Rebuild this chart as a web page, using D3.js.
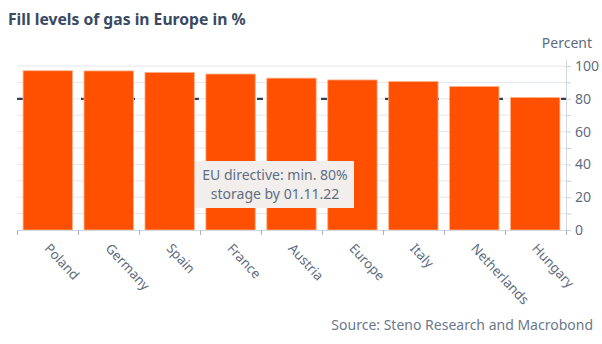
<!DOCTYPE html>
<html>
<head>
<meta charset="utf-8">
<script src="https://cdn.jsdelivr.net/npm/d3@7"></script>
<style>
  body { margin: 0; background: #fff; }
  svg { display: block; font-family: "Noto Sans", "Open Sans", sans-serif; }
</style>
</head>
<body>
<svg id="chart" width="602" height="344"></svg>
<script>
// values (% filled)
const countries = ["Poland", "Germany", "Spain", "France", "Austria", "Europe", "Italy", "Netherlands", "Hungary"];
const fillLevels = [97.1, 97.0, 96.1, 95.1, 92.6, 91.5, 90.5, 87.5, 80.8];
const gridTicks = [0, 10, 20, 30, 40, 50, 60, 70, 80, 90, 100];
const labelTicks = [0, 20, 40, 60, 80, 100];
const targetLevel = 80;
const noteLines = ["EU directive: min. 80%", "storage by 01.11.22"];

const svg = d3.select("#chart");
const plotLeft = 17, plotRight = 566, plotTop = 66, plotBottom = 230;

const x = d3.scaleBand()
    .domain(countries)
    .range([plotLeft, plotRight])
    .paddingInner(0.19)
    .paddingOuter(0.1);

const y = d3.scaleLinear()
    .domain([0, 100])
    .range([plotBottom, plotTop]);

// title
svg.append("text")
    .attr("x", 8).attr("y", 25)
    .attr("fill", "#3a4a62")
    .attr("font-size", 15.7).attr("font-weight", 700)
    .text("Fill levels of gas in Europe in %");

// gridlines
svg.append("g")
    .selectAll("line")
    .data(gridTicks.filter(d => d > 0))
    .join("line")
    .attr("x1", plotLeft).attr("x2", plotRight)
    .attr("y1", d => y(d)).attr("y2", d => y(d))
    .attr("stroke", "#e4e7eb").attr("stroke-width", 1);

// 80% target line, sits behind the bars
svg.append("line")
    .attr("x1", plotLeft).attr("x2", plotRight)
    .attr("y1", y(targetLevel)).attr("y2", y(targetLevel))
    .attr("stroke", "#2e3f58").attr("stroke-width", 2.2)
    .attr("stroke-dasharray", "6,10");

// bars
svg.append("g")
    .selectAll("rect")
    .data(countries)
    .join("rect")
    .attr("x", d => x(d))
    .attr("width", x.bandwidth())
    .attr("y", (d, i) => y(fillLevels[i]))
    .attr("height", (d, i) => y(0) - y(fillLevels[i]))
    .attr("fill", "#fe5000")
    .attr("stroke", "#ffb08a").attr("stroke-width", 0.8);

// right axis
const axisY = d3.axisRight(y)
    .tickValues(gridTicks)
    .tickSize(5)
    .tickFormat(d => labelTicks.includes(d) ? d : "");

svg.append("g")
    .attr("transform", `translate(${plotRight},0)`)
    .call(axisY)
    .call(g => g.select(".domain").attr("stroke", "#d3d8de").attr("d", `M0.5,${plotTop - 6}V${plotBottom}`))
    .call(g => g.selectAll(".tick line").attr("stroke", "#c9ced6"))
    .call(g => g.selectAll(".tick text")
        .attr("x", 9)
        .attr("fill", "#5f6d80")
        .attr("font-size", 14)
        .attr("font-family", "Noto Sans, sans-serif"));

svg.append("text")
    .attr("x", 592).attr("y", 48)
    .attr("text-anchor", "end")
    .attr("fill", "#5f6d80")
    .attr("font-size", 14)
    .text("Percent");

// bottom axis: baseline + ticks on band edges
const edges = countries.map(d => x(d) - x.step() * x.paddingInner() / 2);
edges.push(plotRight);
edges[0] = plotLeft;

svg.append("line")
    .attr("x1", plotLeft).attr("x2", plotRight)
    .attr("y1", plotBottom + 0.5).attr("y2", plotBottom + 0.5)
    .attr("stroke", "#d3d8de");

svg.append("g")
    .selectAll("line")
    .data(edges)
    .join("line")
    .attr("x1", d => Math.round(d) + 0.5).attr("x2", d => Math.round(d) + 0.5)
    .attr("y1", plotBottom).attr("y2", plotBottom + 5)
    .attr("stroke", "#aab2bd");

svg.append("g")
    .selectAll("text")
    .data(countries)
    .join("text")
    .attr("transform", d => `translate(${x(d) + x.bandwidth() / 2 - 4},${plotBottom + 19}) rotate(47)`)
    .attr("fill", "#5f6d80")
    .attr("font-size", 13.3)
    .text(d => d);

// annotation box
const note = svg.append("g");
note.append("rect")
    .attr("x", 195).attr("y", 161)
    .attr("width", 159).attr("height", 47)
    .attr("fill", "#f1eeec");
note.selectAll("text")
    .data(noteLines)
    .join("text")
    .attr("x", 275)
    .attr("y", (d, i) => 180 + i * 19)
    .attr("text-anchor", "middle")
    .attr("fill", "#5f6d80")
    .attr("font-size", 14)
    .text(d => d);

// source
svg.append("text")
    .attr("x", 593).attr("y", 330)
    .attr("text-anchor", "end")
    .attr("fill", "#6b788a")
    .attr("font-size", 14)
    .text("Source: Steno Research and Macrobond");
</script>
</body>
</html>
